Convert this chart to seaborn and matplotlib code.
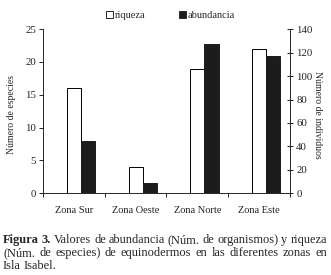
import matplotlib
matplotlib.use("Agg")
import matplotlib.pyplot as plt
from matplotlib.patches import Patch
from matplotlib.ticker import FixedLocator
import seaborn as sns
import pandas as pd

# valores
zonas = ["Zona Sur", "Zona Oeste", "Zona Norte", "Zona Este"]
riqueza = [16, 4, 19, 22]          # num. de especies (eje izq.)
abundancia = [45, 9, 127, 117]     # num. de individuos (eje der.)

caption_lines = [
    ("Figura 3.", "Valores de abundancia (Núm. de organismos) y riqueza"),
    ("", "(Núm. de especies) de equinodermos en las diferentes zonas en"),
    ("", "Isla Isabel."),
]

sns.set_theme(style="ticks")
plt.rcParams["font.family"] = ["Liberation Serif", "DejaVu Serif"]
plt.rcParams["axes.linewidth"] = 0.7

df = pd.DataFrame({"zona": zonas, "riqueza": riqueza, "abundancia": abundancia})

fig = plt.figure(figsize=(3.31, 2.75), dpi=100)
ax = fig.add_axes([0.130, 0.297, 0.746, 0.597])

bw = 0.23
sns.barplot(data=df, x="zona", y="riqueza", ax=ax, color="white", edgecolor="black",
            linewidth=0.7, width=bw, saturation=1, errorbar=None)
ax2 = ax.twinx()
sns.barplot(data=df, x="zona", y="abundancia", ax=ax2, color="#1c1c1c", edgecolor="#1c1c1c",
            linewidth=0.7, width=bw, saturation=1, errorbar=None)
# barras negras a la derecha de las blancas
for p in ax2.patches:
    p.set_x(p.get_x() + bw)

ax.set_xlim(-0.5, 3.5)
ax.set_ylim(0, 25)
ax2.set_ylim(0, 140)
ax.set_yticks(range(0, 26, 5))
ax2.set_yticks(range(0, 141, 20))

ax.xaxis.set_minor_locator(FixedLocator([-0.5, 0.5, 1.5, 2.5, 3.5]))
ax.tick_params(axis="x", which="major", length=0, pad=9, labelsize=7.5, colors="#222222")
ax.tick_params(axis="x", which="minor", length=3, width=0.7, direction="out", color="#222222")
ax.tick_params(axis="y", length=3, width=0.7, direction="out", pad=2, labelsize=7.8, colors="#222222")
ax2.tick_params(axis="y", length=5, width=0.7, direction="inout", pad=2, labelsize=7.8, colors="#222222")

for s in ["top", "right"]:
    ax.spines[s].set_visible(False)
for s in ["top", "left", "bottom"]:
    ax2.spines[s].set_visible(False)

ax.set_xlabel("")
ax.set_ylabel("Número de especies", fontsize=7)
ax.yaxis.set_label_coords(-0.109, 0.48)
ax2.set_ylabel("Número de individuos", fontsize=7, rotation=270, va="center")
ax2.yaxis.set_label_coords(1.113, 0.48)

handles = [Patch(facecolor="white", edgecolor="black", linewidth=0.6),
           Patch(facecolor="#1c1c1c", edgecolor="#1c1c1c", linewidth=0.6)]
fig.legend(handles, ["riqueza", "abundancia"], loc="center", bbox_to_anchor=(0.515, 0.943),
           ncol=2, frameon=False, fontsize=7.5, handlelength=0.7, handleheight=0.7,
           handletextpad=0.15, columnspacing=3.2)

# pie de figura, justificado
fig.canvas.draw()
renderer = fig.canvas.get_renderer()
x0, x1 = 3 / 331, 327 / 331

def measure(s, size, weight="normal"):
    t = fig.text(0, 0, s, fontsize=size, fontweight=weight)
    w = t.get_window_extent(renderer).width / fig.bbox.width
    t.remove()
    return w

# tamano de letra para que la primera linea llene el ancho
fs = 8.0
w1 = measure(caption_lines[0][0], fs, "bold") + measure(" " + caption_lines[0][1], fs)
fs = fs * (x1 - x0) / w1

ys = [1 - 240 / 275, 1 - 253 / 275, 1 - 266 / 275]
sp = measure("a a", fs) - measure("aa", fs)
for i, (bold, rest) in enumerate(caption_lines):
    words = [(w, "bold") for w in bold.split()] + [(w, "normal") for w in rest.split()]
    widths = [measure(w, fs, wt) for w, wt in words]
    if i < len(caption_lines) - 1 and len(words) > 1:
        gap = ((x1 - x0) - sum(widths)) / (len(words) - 1)
    else:
        gap = sp
    x = x0
    for (w, wt), wd in zip(words, widths):
        fig.text(x, ys[i], w, fontsize=fs, fontweight=wt, va="center", ha="left")
        x += wd + gap

fig.savefig("out.png", dpi=100)
